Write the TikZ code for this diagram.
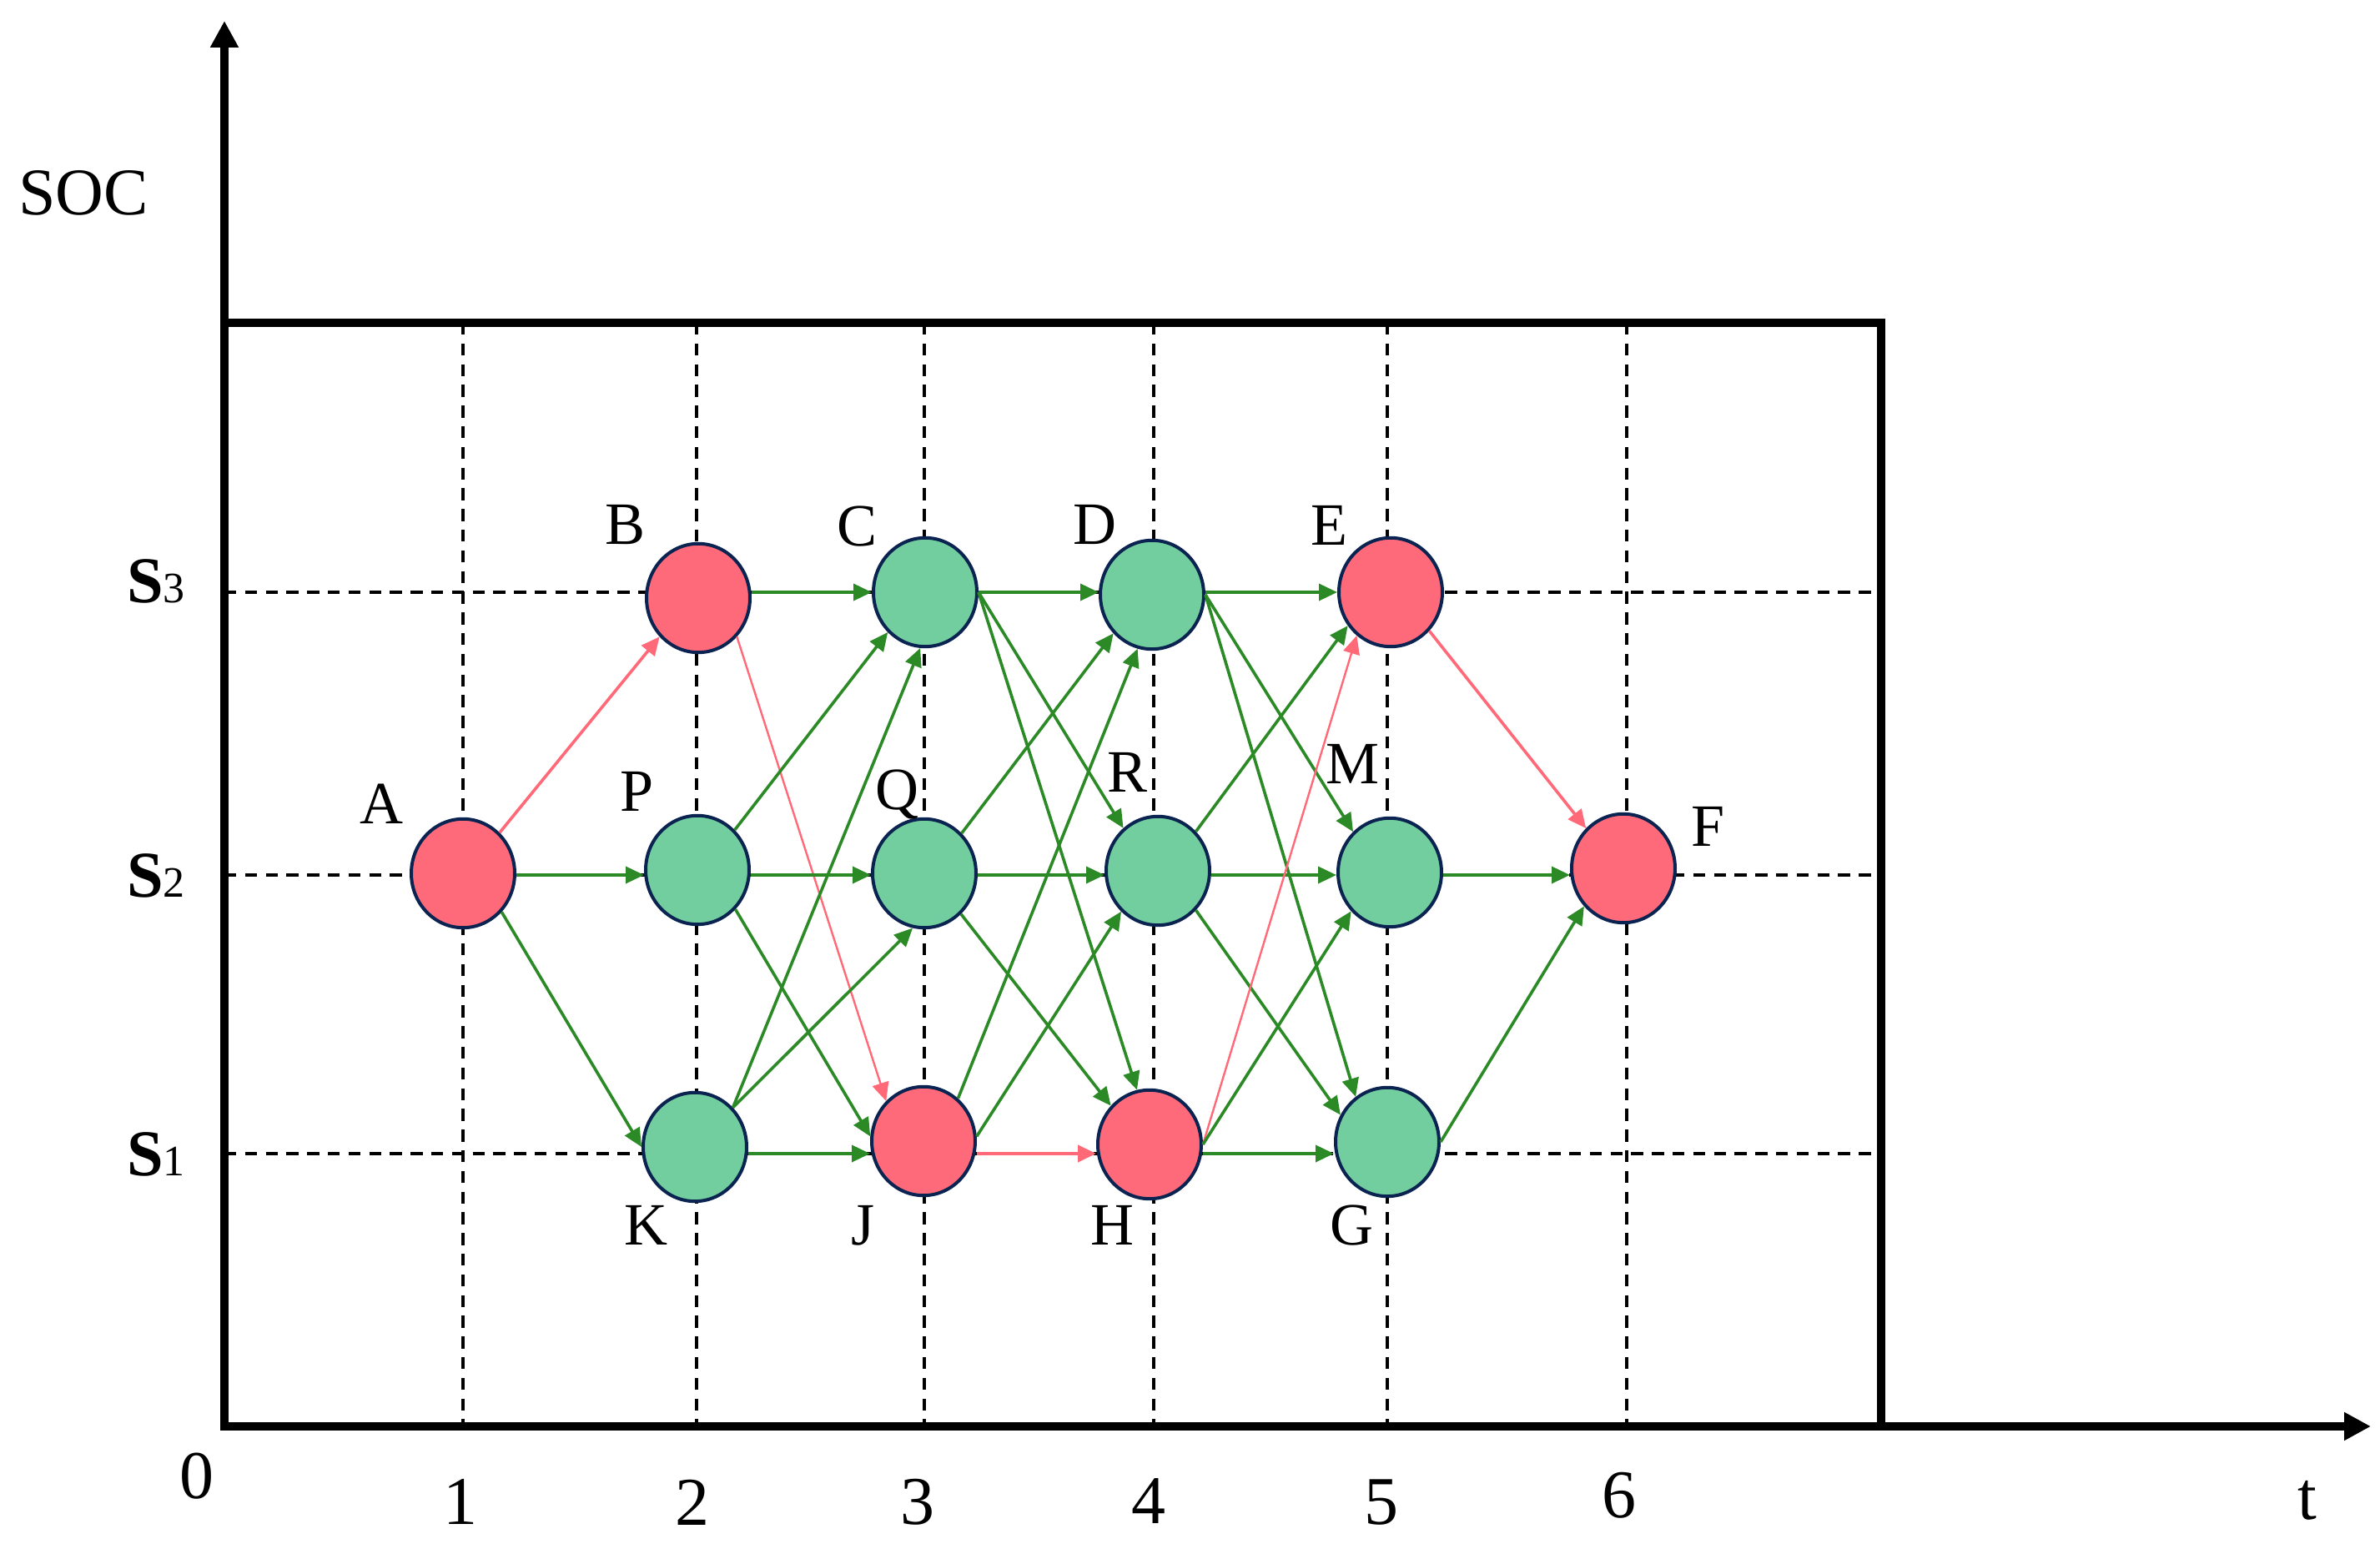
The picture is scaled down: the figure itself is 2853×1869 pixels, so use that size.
\documentclass[tikz,border=0pt]{standalone}
\usepackage{fontspec}
\setmainfont{Liberation Serif}
\usetikzlibrary{arrows.meta,shapes.geometric}
\definecolor{ngreen}{RGB}{114,206,158}
\definecolor{nred}{RGB}{255,106,122}
\definecolor{nborder}{RGB}{10,35,80}
\definecolor{egreen}{RGB}{43,138,38}
\definecolor{ered}{RGB}{255,105,120}
\begin{document}
\begin{tikzpicture}[x=0.25pt,y=-0.25pt,
  vert/.style={ellipse, draw=nborder, line width=1pt, minimum width=31pt, minimum height=32.6pt, inner sep=0pt},
  gnode/.style={vert, fill=ngreen},
  rnode/.style={vert, fill=nred},
  lbl/.style={anchor=base, inner sep=0pt, font=\fontsize{18pt}{20pt}\selectfont},
  ticklbl/.style={anchor=base, inner sep=0pt, font=\fontsize{20.5pt}{22pt}\selectfont},
  gridline/.style={line width=0.8pt, dash pattern=on 3.6pt off 2.6pt},
  axisline/.style={line width=2.7pt, line join=miter},
  frameline/.style={line width=2.4pt, line join=miter},
  ge/.style={draw=egreen, line width=0.9pt, -{Triangle[length=5.5pt,width=5pt]}},
  re/.style={draw=ered, line width=0.9pt, -{Triangle[length=5.5pt,width=5pt]}},
  rethin/.style={re, line width=0.6pt}
]
\useasboundingbox (0,0) rectangle (2853,1869);

% coordinates
\coordinate (O) at (269,1710);
\coordinate (Ytip) at (269,25);
\coordinate (Xtip) at (2842,1710);
\coordinate (FTL) at (269,387);
\coordinate (FTR) at (2255,387);
\coordinate (FBR) at (2255,1710);
\coordinate (r3) at (0,710);
\coordinate (r2) at (0,1049);
\coordinate (r1) at (0,1383);

% grid
\foreach \x in {555,835,1108,1383,1663,1950}
  \draw[gridline] (\x,387) -- (\x,1710);
\foreach \y in {710,1049,1383}
  \draw[gridline] (269,\y) -- (2255,\y);

% frame and axes
\draw[frameline] (FTL) -- (FTR) -- (FBR);
\draw[axisline, {Triangle[length=8pt,width=8pt]}-{Triangle[length=8pt,width=8pt]}] (Ytip) -- (O) -- (Xtip);

% axis labels
\node[anchor=base, inner sep=0pt, font=\fontsize{20pt}{22pt}\selectfont] (soc) at (100,258) {SOC};
\node[anchor=base, inner sep=0pt] (s3) at (187,723) {\fontsize{19.6pt}{22pt}\selectfont\textbf{S}\fontsize{13pt}{15pt}\selectfont 3};
\node[anchor=base, inner sep=0pt] (s2) at (187,1076) {\fontsize{19.6pt}{22pt}\selectfont\textbf{S}\fontsize{13pt}{15pt}\selectfont 2};
\node[anchor=base, inner sep=0pt] (s1) at (187,1410) {\fontsize{19.6pt}{22pt}\selectfont\textbf{S}\fontsize{13pt}{15pt}\selectfont 1};

\node[ticklbl] (t0) at (236,1797) {0};
\node[ticklbl] (t1) at (552,1828) {1};
\node[ticklbl] (t2) at (830,1829) {2};
\node[ticklbl] (t3) at (1100,1828) {3};
\node[ticklbl] (t4) at (1377,1827) {4};
\node[ticklbl] (t5) at (1656,1828) {5};
\node[ticklbl] (t6) at (1941,1820) {6};
\node[ticklbl] (tt) at (2766,1822) {t};

% vertices
\node[rnode] (A) at (555,1047) {};
\node[rnode] (B) at (837,717) {};
\node[gnode] (C) at (1109,710) {};
\node[gnode] (D) at (1381,713) {};
\node[rnode] (E) at (1667,710) {};
\node[gnode] (P) at (836,1043) {};
\node[gnode] (Q) at (1108,1047) {};
\node[gnode] (R) at (1388,1044) {};
\node[gnode] (M) at (1666,1046) {};
\node[rnode] (F) at (1946,1041) {};
\node[gnode] (K) at (833,1375) {};
\node[rnode] (J) at (1107,1368) {};
\node[rnode] (H) at (1378,1372) {};
\node[gnode] (G) at (1663,1369) {};

% vertex labels
\node[lbl] (lA) at (457,988) {A};
\node[lbl] (lB) at (750,653) {B};
\node[lbl] (lC) at (1028,655) {C};
\node[lbl] (lD) at (1312,653) {D};
\node[lbl] (lE) at (1593,654) {E};
\node[lbl] (lP) at (764,973) {P};
\node[lbl] (lQ) at (1075,971) {Q};
\node[lbl] (lR) at (1352,950) {R};
\node[lbl] (lM) at (1621,940) {M};
\node[lbl] (lF) at (2048,1015) {F};
\node[lbl] (lK) at (774,1493) {K};
\node[lbl] (lJ) at (1035,1493) {J};
\node[lbl] (lH) at (1333,1493) {H};
\node[lbl] (lG) at (1620,1493) {G};

% edges
\draw[re] (A.48) -- (B.225);
\draw[ge] (A.east |- r2) -- (P.west |- r2);
\draw[ge] (A.-45) -- (K.180);
\draw[ge] (B.east |- r3) -- (C.west |- r3);
\draw[rethin] (B.-45) -- (J.133);
\draw[ge] (P.47) -- (C.227);
\draw[ge] (P.east |- r2) -- (Q.west |- r2);
\draw[ge] (P.-46) -- (J.175);
\draw[ge] (K.46) -- (C.265);
\draw[ge] (K.46) -- (Q.258);
\draw[ge] (K.east |- r1) -- (J.west |- r1);
\draw[ge] (C.east |- r3) -- (D.west |- r3);
\draw[ge] (C.east) -- (R.129);
\draw[ge] (C.east) -- (H.103);
\draw[ge] (Q.47) -- (D.225);
\draw[ge] (Q.east |- r2) -- (R.west |- r2);
\draw[ge] (Q.-48) -- (H.135);
\draw[ge] (J.51) -- (D.255);
\draw[ge] (J.5) -- (R.228);
\draw[re, line width=1.1pt] (J.east |- r1) -- (H.west |- r1);
\draw[ge] (D.east |- r3) -- (E.west |- r3);
\draw[ge] (D.east) -- (M.132);
\draw[ge] (D.east) -- (G.125);
\draw[ge] (R.46) -- (E.218);
\draw[ge] (R.east |- r2) -- (M.west |- r2);
\draw[ge] (R.-46) -- (G.150);
\draw[rethin] (H.east) -- (E.232);
\draw[ge] (H.east) -- (M.225);
\draw[ge] (H.east |- r1) -- (G.west |- r1);
\draw[re] (E.-45) -- (F.133);
\draw[ge] (M.east |- r2) -- (F.west |- r2);
\draw[ge] (G.east) -- (F.224);
\end{tikzpicture}
\end{document}
